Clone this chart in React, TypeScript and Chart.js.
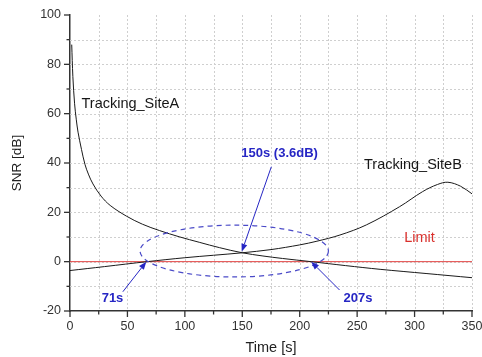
import React, { useEffect, useRef } from 'react';
import { Chart, registerables } from 'chart.js';

Chart.register(...registerables);

// ---- data ----
const siteATimes = [1.5, 2.5, 4, 5.5, 7, 10, 13, 16, 20, 27, 35, 49, 63, 78, 95, 113, 130, 150, 168, 185, 210, 240, 270, 310, 350];
const siteAValues = [88, 75, 64, 57.5, 52.5, 45.5, 39.5, 35.5, 31.5, 26.6, 22.8, 18.5, 15.2, 12.6, 10.1, 7.8, 5.7, 3.6, 2.3, 1.3, 0, -1.6, -3.1, -4.8, -6.5];

const siteBTimes = [0, 30, 67, 100, 125, 150, 175, 200, 215, 235, 258, 287, 307, 320, 329, 340, 350];
const siteBValues = [-3.6, -2, 0, 1.6, 2.6, 3.6, 4.9, 6.8, 8.3, 10.8, 14.9, 22.3, 28.4, 31.3, 32.2, 30.6, 27.5];

const limitTimes = [0, 350];
const limitValues = [0, 0];

const xMajorTicks = [0, 50, 100, 150, 200, 250, 300, 350];
const yMajorTicks = [-20, 0, 20, 40, 60, 80, 100];
const xGridValues = [25, 50, 75, 100, 125, 150, 175, 200, 225, 250, 275, 300, 325, 350];
const yGridValues = [-10, 0, 10, 20, 30, 40, 50, 60, 70, 80, 90];

// curve labels
const curveLabelTexts = ['Tracking_SiteA', 'Tracking_SiteB', 'Limit'];
const curveLabelTimes = [10, 256, 291];
const curveLabelValues = [64, 39, 9.6];

// blue callouts
const calloutTexts = ['71s', '150s (3.6dB)', '207s'];
const calloutTimes = [37, 182.5, 250.7];
const calloutValues = [-14.7, 43.7, -14.7];
const arrowFromTimes = [46, 175.3, 234.7];
const arrowFromValues = [-12.2, 38.5, -11.5];
const arrowToTimes = [66.5, 149.5, 210];
const arrowToValues = [0, 4, 0];

const ellipseCenter = [143, 4.3];
const ellipseRadii = [82, 10.5];

const FONT = '"Liberation Sans", Arial, Helvetica, sans-serif';
const BLUE = '#2626c4';

const toPoints = (ts: number[], vs: number[]) => ts.map((t, i) => ({ x: t, y: vs[i] }));

const overlayPlugin = {
  id: 'overlay',
  beforeDatasetsDraw(chart: any) {
    const { ctx, chartArea: a, scales } = chart;
    const x = scales.x, y = scales.y;
    ctx.save();
    ctx.strokeStyle = '#cfcfcf';
    ctx.lineWidth = 1;
    ctx.setLineDash([2, 2]);
    for (const t of xGridValues) {
      const px = Math.round(x.getPixelForValue(t)) + 0.5;
      ctx.beginPath();
      ctx.moveTo(px, a.top);
      ctx.lineTo(px, a.bottom);
      ctx.stroke();
    }
    for (const v of yGridValues) {
      const py = Math.round(y.getPixelForValue(v)) + 0.5;
      ctx.beginPath();
      ctx.moveTo(a.left, py);
      ctx.lineTo(a.right, py);
      ctx.stroke();
    }
    ctx.restore();
  },
  afterDatasetsDraw(chart: any) {
    const { ctx, scales } = chart;
    const x = scales.x, y = scales.y;
    ctx.save();
    // ellipse
    const cx = x.getPixelForValue(ellipseCenter[0]);
    const cy = y.getPixelForValue(ellipseCenter[1]);
    const rx = x.getPixelForValue(ellipseCenter[0] + ellipseRadii[0]) - cx;
    const ry = cy - y.getPixelForValue(ellipseCenter[1] + ellipseRadii[1]);
    ctx.strokeStyle = '#4a4ac8';
    ctx.lineWidth = 1.2;
    ctx.setLineDash([5, 4]);
    ctx.beginPath();
    ctx.ellipse(cx, cy, rx, ry, 0, 0, Math.PI * 2);
    ctx.stroke();
    ctx.setLineDash([]);

    // arrows
    ctx.strokeStyle = BLUE;
    ctx.fillStyle = BLUE;
    ctx.lineWidth = 1;
    for (let i = 0; i < arrowFromTimes.length; i++) {
      const x1 = x.getPixelForValue(arrowFromTimes[i]);
      const y1 = y.getPixelForValue(arrowFromValues[i]);
      const x2 = x.getPixelForValue(arrowToTimes[i]);
      const y2 = y.getPixelForValue(arrowToValues[i]);
      const ang = Math.atan2(y2 - y1, x2 - x1);
      const hl = 8, hw = 3;
      const bx = x2 - hl * Math.cos(ang);
      const by = y2 - hl * Math.sin(ang);
      ctx.beginPath();
      ctx.moveTo(x1, y1);
      ctx.lineTo(bx, by);
      ctx.stroke();
      ctx.beginPath();
      ctx.moveTo(x2, y2);
      ctx.lineTo(bx + hw * Math.sin(ang), by - hw * Math.cos(ang));
      ctx.lineTo(bx - hw * Math.sin(ang), by + hw * Math.cos(ang));
      ctx.closePath();
      ctx.fill();
    }

    // callout texts
    ctx.font = `bold 13px ${FONT}`;
    ctx.textAlign = 'center';
    ctx.textBaseline = 'middle';
    for (let i = 0; i < calloutTexts.length; i++) {
      ctx.fillText(calloutTexts[i], x.getPixelForValue(calloutTimes[i]), y.getPixelForValue(calloutValues[i]));
    }

    // curve labels
    ctx.font = `14.5px ${FONT}`;
    ctx.textAlign = 'left';
    for (let i = 0; i < curveLabelTexts.length; i++) {
      ctx.fillStyle = curveLabelTexts[i] === 'Limit' ? '#d9302c' : '#161616';
      ctx.fillText(curveLabelTexts[i], x.getPixelForValue(curveLabelTimes[i]), y.getPixelForValue(curveLabelValues[i]));
    }
    ctx.restore();
  },
  afterDraw(chart: any) {
    const { ctx, chartArea: a, scales } = chart;
    const x = scales.x, y = scales.y;
    ctx.save();
    ctx.strokeStyle = '#333';
    ctx.lineWidth = 1.3;
    for (let i = 0; i < xMajorTicks.length; i++) {
      const t = xMajorTicks[i];
      const px = x.getPixelForValue(t);
      ctx.beginPath();
      ctx.moveTo(px, a.bottom);
      ctx.lineTo(px, a.bottom + 6);
      ctx.stroke();
      if (i < xMajorTicks.length - 1) {
        const pm = x.getPixelForValue((t + xMajorTicks[i + 1]) / 2);
        ctx.beginPath();
        ctx.moveTo(pm, a.bottom);
        ctx.lineTo(pm, a.bottom + 3.5);
        ctx.stroke();
      }
    }
    for (let i = 0; i < yMajorTicks.length; i++) {
      const v = yMajorTicks[i];
      const py = y.getPixelForValue(v);
      ctx.beginPath();
      ctx.moveTo(a.left, py);
      ctx.lineTo(a.left - 6, py);
      ctx.stroke();
      if (i < yMajorTicks.length - 1) {
        const pm = y.getPixelForValue((v + yMajorTicks[i + 1]) / 2);
        ctx.beginPath();
        ctx.moveTo(a.left, pm);
        ctx.lineTo(a.left - 3.5, pm);
        ctx.stroke();
      }
    }
    ctx.restore();
  },
};

export default function App() {
  const canvasRef = useRef<HTMLCanvasElement | null>(null);

  useEffect(() => {
    if (!canvasRef.current) return;
    const chart = new Chart(canvasRef.current, {
      type: 'line',
      data: {
        datasets: [
          {
            label: 'Tracking_SiteA',
            data: toPoints(siteATimes, siteAValues),
            borderColor: '#1a1a1a',
            borderWidth: 1,
            pointRadius: 0,
            tension: 0.35,
            fill: false,
          },
          {
            label: 'Tracking_SiteB',
            data: toPoints(siteBTimes, siteBValues),
            borderColor: '#1a1a1a',
            borderWidth: 1,
            pointRadius: 0,
            tension: 0.35,
            fill: false,
          },
          {
            label: 'Limit',
            data: toPoints(limitTimes, limitValues),
            borderColor: '#e2413f',
            borderWidth: 1,
            pointRadius: 0,
            fill: false,
          },
        ],
      },
      options: {
        animation: false,
        responsive: true,
        maintainAspectRatio: false,
        layout: { padding: { top: 15, right: 10, bottom: 0, left: 0 } },
        plugins: { legend: { display: false }, tooltip: { enabled: false } },
        scales: {
          x: {
            type: 'linear',
            min: 0,
            max: 350,
            afterFit: (s: any) => {
              s.height = 46;
              s.paddingLeft = 0;
              s.paddingRight = 0;
            },
            afterBuildTicks: (s: any) => {
              s.ticks = xMajorTicks.map((v) => ({ value: v }));
            },
            grid: { display: false, drawTicks: false },
            border: { display: true, color: '#333', width: 1.5 },
            ticks: {
              padding: 8,
              color: '#333',
              font: { family: FONT, size: 12.5 },
              maxRotation: 0,
              autoSkip: false,
            },
            title: {
              display: true,
              text: 'Time [s]',
              color: '#222',
              font: { family: FONT, size: 14.5 },
              padding: { top: 0, bottom: 0 },
            },
          },
          y: {
            type: 'linear',
            min: -20,
            max: 100,
            afterFit: (s: any) => {
              s.width = 70;
              s.paddingTop = 0;
              s.paddingBottom = 0;
            },
            afterBuildTicks: (s: any) => {
              s.ticks = yMajorTicks.map((v) => ({ value: v }));
            },
            grid: { display: false, drawTicks: false },
            border: { display: true, color: '#333', width: 1.5 },
            ticks: {
              padding: 9,
              color: '#333',
              font: { family: FONT, size: 12.5 },
              autoSkip: false,
            },
            title: {
              display: true,
              text: 'SNR [dB]',
              color: '#222',
              font: { family: FONT, size: 13.5 },
              padding: { top: 9, bottom: 0 },
            },
          },
        },
      },
      plugins: [overlayPlugin],
    } as any);
    return () => chart.destroy();
  }, []);

  return (
    <div style={{ position: 'fixed', left: 0, top: 0, width: 482, height: 357, background: '#fff' }}>
      <canvas ref={canvasRef} />
    </div>
  );
}
